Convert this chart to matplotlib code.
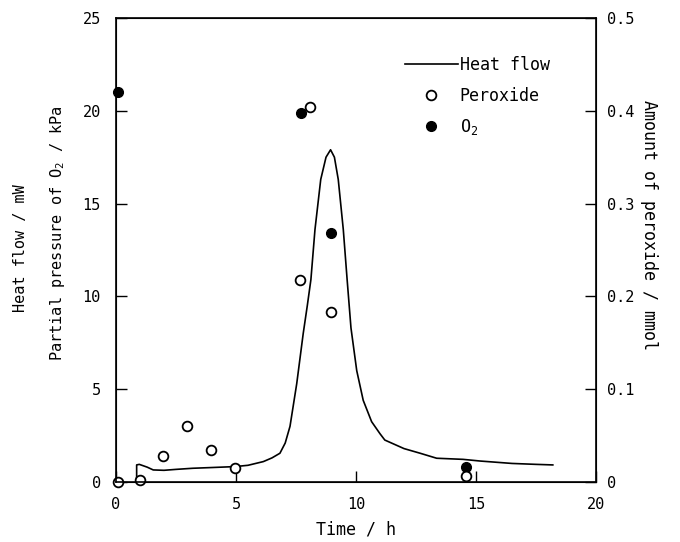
import numpy as np
import matplotlib.pyplot as plt
from matplotlib.ticker import FuncFormatter

plt.rcParams['font.family'] = ['DejaVu Sans Mono', 'DejaVu Sans']
plt.rcParams['mathtext.fontset'] = 'custom'
plt.rcParams['mathtext.rm'] = 'DejaVu Sans Mono'

# heat flow curve (mW) vs time (h)
heat_t = [0.86, 0.86, 0.97, 1.3, 1.55, 2.0, 2.5, 3.2, 4.0, 4.96, 5.5, 6.14, 6.5,
          6.83, 7.05, 7.25, 7.53, 7.8, 7.97, 8.12, 8.29, 8.53, 8.75, 8.94,
          9.1, 9.26, 9.47, 9.63, 9.79, 10.03, 10.3, 10.65, 11.0, 11.2, 12.0,
          12.67, 13.36, 14.46, 15.17, 16.5, 17.5, 18.2]
heat_q = [0.0, 0.92, 0.95, 0.8, 0.65, 0.63, 0.68, 0.74, 0.78, 0.83, 0.9, 1.1, 1.3,
          1.55, 2.1, 3.0, 5.3, 8.0, 9.5, 10.9, 13.6, 16.3, 17.5, 17.9,
          17.5, 16.3, 13.6, 10.9, 8.3, 6.0, 4.4, 3.25, 2.6, 2.26, 1.8,
          1.55, 1.28, 1.22, 1.13, 1.0, 0.95, 0.92]

# peroxide amount (mmol)
perox_t = [0.1, 1.0, 1.96, 2.96, 3.96, 4.96, 7.67, 8.1, 8.96, 14.6]
perox_n = [0.0, 0.002, 0.028, 0.06, 0.034, 0.015, 0.218, 0.404, 0.183, 0.006]

# O2 partial pressure (kPa)
o2_t = [0.1, 7.7, 8.96, 14.6]
o2_p = [21.0, 19.9, 13.4, 0.8]

fig = plt.figure(figsize=(6.8, 5.42), dpi=100)
ax = fig.add_axes([0.1706, 0.1107, 0.7059, 0.8561])
ax2 = ax.twinx()

l1, = ax.plot(heat_t, heat_q, color='black', lw=1.2, label='Heat flow')
l3, = ax.plot(o2_t, o2_p, 'o', color='black', ms=7, label='O$_2$', clip_on=False)
l2, = ax2.plot(perox_t, perox_n, 'o', mfc='white', mec='black', mew=1.3, ms=7,
               label='Peroxide', clip_on=False)

ax.set_xlim(0, 20)
ax.set_ylim(0, 25)
ax2.set_ylim(0, 0.5)
ax.set_xticks([0, 5, 10, 15, 20])
ax.set_yticks([0, 5, 10, 15, 20, 25])
ax2.set_yticks([0, 0.1, 0.2, 0.3, 0.4, 0.5])
ax2.yaxis.set_major_formatter(FuncFormatter(lambda v, p: '0' if v == 0 else f'{v:.1f}'))

ax.tick_params(direction='in', length=8, width=1, labelsize=11, pad=11)
ax2.tick_params(direction='in', length=8, width=1, labelsize=11, pad=8)
for s in ax2.spines.values():
    s.set_linewidth(1.2)

ax.set_xlabel('Time / h', fontsize=12, labelpad=6)
fig.text(0.03, 0.542, 'Heat flow / mW', rotation=90, fontsize=11, ha='center', va='center')
fig.text(0.085, 0.57, 'Partial pressure of O$_2$ / kPa', rotation=90, fontsize=11,
         ha='center', va='center')
fig.text(0.955, 0.585, 'Amount of peroxide / mmol', rotation=-90, fontsize=12,
         ha='center', va='center')

ax.legend([l1, l2, l3], ['Heat flow', 'Peroxide', 'O$_2$'], loc='upper left',
          bbox_to_anchor=(0.57, 0.95), frameon=False, fontsize=12,
          handlelength=3.2, handletextpad=0.1, labelspacing=0.75)

fig.savefig('out.png', dpi=100)
